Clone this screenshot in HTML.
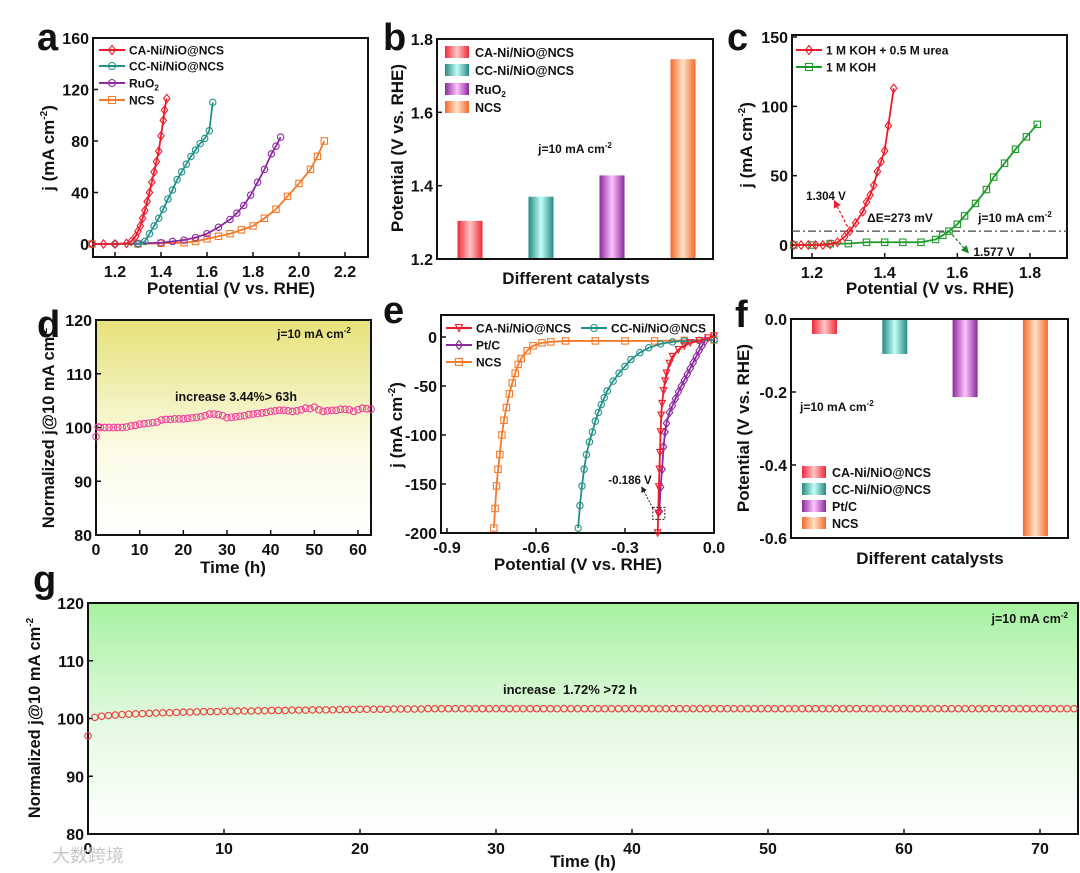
<!DOCTYPE html>
<html><head><meta charset="utf-8">
<style>
html,body{margin:0;padding:0;background:#fff;}
svg{display:block;font-family:"Liberation Sans","Noto Sans CJK SC",sans-serif;font-weight:bold;}
</style></head>
<body>
<svg id="fig" width="1080" height="873" viewBox="0 0 1080 873" xmlns="http://www.w3.org/2000/svg">
<defs>
<linearGradient id="gY" x1="0" y1="0" x2="0" y2="1"><stop offset="0" stop-color="#e6e27a"/><stop offset="0.6" stop-color="#fbfbe6"/><stop offset="1" stop-color="#ffffff"/></linearGradient>
<linearGradient id="gG" x1="0" y1="0" x2="0" y2="1"><stop offset="0" stop-color="#a6f2a0"/><stop offset="0.55" stop-color="#e6fae4"/><stop offset="1" stop-color="#ffffff"/></linearGradient>
<linearGradient id="bRed" x1="0" y1="0" x2="1" y2="0"><stop offset="0" stop-color="#ee2a3a"/><stop offset="0.5" stop-color="#ffc6c6"/><stop offset="1" stop-color="#ee2a3a"/></linearGradient>
<linearGradient id="bTeal" x1="0" y1="0" x2="1" y2="0"><stop offset="0" stop-color="#268a80"/><stop offset="0.5" stop-color="#c4fffa"/><stop offset="1" stop-color="#268a80"/></linearGradient>
<linearGradient id="bPur" x1="0" y1="0" x2="1" y2="0"><stop offset="0" stop-color="#8a2a9c"/><stop offset="0.5" stop-color="#ffc4ff"/><stop offset="1" stop-color="#8a2a9c"/></linearGradient>
<linearGradient id="bOra" x1="0" y1="0" x2="1" y2="0"><stop offset="0" stop-color="#f26a2a"/><stop offset="0.5" stop-color="#ffe2c8"/><stop offset="1" stop-color="#f26a2a"/></linearGradient>
<marker id="arrR" markerWidth="6" markerHeight="6" refX="3" refY="3" orient="auto"><path d="M0,0 L6,3 L0,6 z" fill="#e8203a"/></marker>
<marker id="arrG" markerWidth="6" markerHeight="6" refX="3" refY="3" orient="auto"><path d="M0,0 L6,3 L0,6 z" fill="#1a8a2a"/></marker>
<marker id="arrK" markerWidth="6" markerHeight="6" refX="3" refY="3" orient="auto"><path d="M0,0 L6,3 L0,6 z" fill="#222"/></marker>
</defs>
</svg>
<script>
// ---------- Panel a (OER LSV) ----------
const aRedX=[1.10,1.15,1.20,1.25,1.27,1.29,1.30,1.31,1.32,1.33,1.34,1.35,1.36,1.37,1.38,1.39,1.40,1.41,1.415,1.425];
const aRedY=[0,0,0,0.5,2,6,10,14,20,26,33,40,48,56,64,72,84,96,104,113];
const aTealX=[1.10,1.20,1.30,1.33,1.35,1.37,1.39,1.41,1.43,1.45,1.47,1.49,1.51,1.53,1.55,1.57,1.59,1.61,1.625];
const aTealY=[0,0,0,2,8,14,20,27,35,42,50,56,62,68,73,78,82,88,110];
const aPurX=[1.10,1.20,1.30,1.40,1.45,1.50,1.55,1.60,1.65,1.70,1.73,1.76,1.79,1.82,1.85,1.88,1.90,1.92];
const aPurY=[0,0,0.5,1,2,3,5,8,13,19,24,30,38,48,58,70,76,83];
const aOraX=[1.10,1.30,1.40,1.50,1.55,1.60,1.65,1.70,1.75,1.80,1.85,1.90,1.95,2.00,2.05,2.08,2.11];
const aOraY=[0,0,0.5,1,2,4,6,8,11,14,20,27,37,47,58,68,80];
const aXTicks=[1.2,1.4,1.6,1.8,2.0,2.2];
const aYTicks=[0,40,80,120,160];
// ---------- Panel b (OER bars) ----------
const bCats=["CA-Ni/NiO@NCS","CC-Ni/NiO@NCS","RuO2","NCS"];
const bVals=[1.304,1.370,1.428,1.745];
const bYTicks=[1.2,1.4,1.6,1.8];
// ---------- Panel c ----------
const cRedX=[1.15,1.17,1.19,1.21,1.23,1.25,1.27,1.29,1.304,1.32,1.34,1.35,1.36,1.37,1.38,1.39,1.40,1.41,1.425];
const cRedY=[0,0,0,0,0,0.5,2,6,10,16,24,31,36,43,53,60,68,86,113];
const cGrnX=[1.15,1.20,1.25,1.30,1.35,1.40,1.45,1.50,1.54,1.56,1.577,1.60,1.62,1.65,1.68,1.70,1.73,1.76,1.79,1.82];
const cGrnY=[0,0,1,1,2,2,2,2,4,7,10,15,21,30,40,49,59,69,78,87];
const cXTicks=[1.2,1.4,1.6,1.8];
const cYTicks=[0,50,100,150];
// ---------- Panel d ----------
const dT=[0,0.5,1,2,3,4,5,6,7,8,9,10,11,12,13,14,15,16,17,18,19,20,21,22,23,24,25,26,27,28,29,30,31,32,33,34,35,36,37,38,39,40,41,42,43,44,45,46,47,48,49,50,51,52,53,54,55,56,57,58,59,60,61,62,63];
const dV=[98.3,100.1,100,100,100,100,100,100,100.1,100.3,100.4,100.6,100.7,100.8,100.9,101,101.4,101.5,101.5,101.6,101.6,101.6,101.7,101.8,101.9,102,102.2,102.5,102.5,102.4,102.2,101.8,101.9,102,102.1,102.2,102.4,102.5,102.6,102.7,102.8,103,103.1,103.2,103.2,103.1,103,103.1,103.3,103.6,103.5,103.8,103.3,103,103.1,103.2,103.2,103.4,103.4,103.3,103,103.3,103.6,103.5,103.4];
const dXTicks=[0,10,20,30,40,50,60];
const dYTicks=[80,90,100,110,120];
// ---------- Panel e (HER LSV) ----------
const eOraX=[-0.742,-0.738,-0.733,-0.728,-0.722,-0.715,-0.708,-0.70,-0.69,-0.68,-0.67,-0.66,-0.65,-0.63,-0.61,-0.58,-0.55,-0.50,-0.40,-0.30,-0.20,-0.10,0.0];
const eOraY=[-195,-175,-152,-135,-120,-100,-85,-72,-58,-47,-37,-28,-22,-14,-9,-6,-5,-4,-4,-4,-4,-3.5,-3];
const eTealX=[-0.458,-0.452,-0.445,-0.438,-0.43,-0.42,-0.41,-0.40,-0.39,-0.38,-0.37,-0.36,-0.34,-0.32,-0.30,-0.28,-0.25,-0.22,-0.18,-0.14,-0.10,-0.05,0.0];
const eTealY=[-195,-172,-152,-135,-120,-107,-97,-86,-77,-69,-62,-55,-45,-37,-30,-23,-16,-11,-7,-5,-4,-3.5,-3];
const eRedX=[-0.19,-0.188,-0.186,-0.184,-0.182,-0.18,-0.178,-0.175,-0.17,-0.165,-0.16,-0.15,-0.14,-0.12,-0.10,-0.08,-0.05,-0.02,0.0];
const eRedY=[-200,-180,-153,-135,-118,-97,-80,-68,-55,-45,-37,-27,-20,-13,-9,-6,-4,-1,1];
const ePurX=[-0.184,-0.18,-0.175,-0.17,-0.165,-0.16,-0.15,-0.14,-0.13,-0.12,-0.11,-0.10,-0.09,-0.08,-0.07,-0.06,-0.05,-0.04,-0.03];
const ePurY=[-178,-153,-135,-112,-97,-88,-77,-70,-63,-56,-50,-44,-38,-32,-26,-20,-14,-9,-4];
const eXTicks=[-0.9,-0.6,-0.3,0.0];
const eYTicks=[0,-50,-100,-150,-200];
// ---------- Panel f (HER bars) ----------
const fCats=["CA-Ni/NiO@NCS","CC-Ni/NiO@NCS","Pt/C","NCS"];
const fVals=[-0.041,-0.096,-0.214,-0.595];
const fYTicks=[0,-0.2,-0.4,-0.6];
// ---------- Panel g ----------
const gV=[97,100.2,100.4,100.5,100.6,100.7,100.75,100.8,100.85,100.9,100.95,101,101,101.05,101.1,101.1,101.15,101.2,101.2,101.2,101.25,101.25,101.3,101.3,101.3,101.35,101.35,101.4,101.4,101.4,101.45,101.45,101.45,101.5,101.5,101.5,101.5,101.55,101.55,101.55,101.6,101.6,101.6,101.6,101.6,101.65,101.65,101.65,101.65,101.65,101.7,101.7,101.7,101.7,101.7,101.7,101.7,101.7,101.7,101.7,101.7,101.7,101.7,101.7,101.7,101.7,101.7,101.7,101.7,101.7,101.7,101.7,101.7,101.7,101.7,101.7,101.7,101.7,101.7,101.7,101.7,101.7,101.7,101.7,101.7,101.7,101.7,101.7,101.7,101.7,101.7,101.7,101.7,101.7,101.7,101.7,101.7,101.7,101.7,101.7,101.7,101.7,101.7,101.7,101.7,101.7,101.7,101.7,101.7,101.7,101.7,101.7,101.7,101.7,101.7,101.7,101.7,101.7,101.7,101.7,101.7,101.7,101.7,101.7,101.7,101.7,101.7,101.7,101.7,101.7,101.7,101.7,101.7,101.7,101.7,101.7,101.7,101.7,101.7,101.7,101.7,101.7,101.7,101.7,101.7,101.7];
const gT=gV.map((v,i)=>i===0?0:i*0.5);
const gXTicks=[0,10,20,30,40,50,60,70];
const gYTicks=[80,90,100,110,120];

const NS="http://www.w3.org/2000/svg";
const svg=document.getElementById('fig');
function mk(tag,attrs,parent){const e=document.createElementNS(NS,tag);for(const k in attrs)e.setAttribute(k,attrs[k]);(parent||svg).appendChild(e);return e;}
function lin(d0,d1,r0,r1){return v=>r0+(v-d0)*(r1-r0)/(d1-d0);}
function fmt(v,dec){return v.toFixed(dec);}

function axes(g,box,sx,sy,xt,yt,xdec,ydec,fill){
  if(fill){const bg=mk('rect',{x:box[0],y:box[1],width:box[2]-box[0],height:box[3]-box[1],fill:fill},g);
  
  }
  if(xt){xt.forEach(t=>{const x=sx(t);mk('line',{x1:x,y1:box[3],x2:x,y2:box[3]-5,stroke:'#111','stroke-width':1.5},g);
    const tx=mk('text',{x:x,y:box[3]+20,'text-anchor':'middle','font-size':16,fill:'#111'},g);tx.textContent=fmt(t,xdec);
    
    });}
  yt.forEach(t=>{const y=sy(t);mk('line',{x1:box[0],y1:y,x2:box[0]+5,y2:y,stroke:'#111','stroke-width':1.5},g);
    const tx=mk('text',{x:box[0]-4,y:y+6,'text-anchor':'end','font-size':16,fill:'#111'},g);tx.textContent=fmt(t,ydec);
    
    });
  const fr=mk('rect',{x:box[0],y:box[1],width:box[2]-box[0],height:box[3]-box[1],fill:'none',stroke:'#111','stroke-width':2},g);
  
  
}
function label(g,txt,x,y,size,rot,name,anchor){
  const t=mk('text',{x:x,y:y,'font-size':size,'text-anchor':anchor||'middle',fill:'#111'},g);
  if(rot)t.setAttribute('transform','rotate(-90 '+x+' '+y+')');
  t.innerHTML=txt;
  
  
  return t;
}
function marker(g,shape,x,y,c,r){
  let m;
  if(shape==='sq')m=mk('rect',{x:x-r,y:y-r,width:2*r,height:2*r,fill:'none',stroke:c,'stroke-width':1.1},g);
  else if(shape==='di')m=mk('path',{d:`M${x},${y-r-1}L${x+r},${y}L${x},${y+r+1}L${x-r},${y}Z`,fill:'none',stroke:c,'stroke-width':1.1},g);
  else if(shape==='tri')m=mk('path',{d:`M${x-r},${y-r}L${x+r},${y-r}L${x},${y+r}Z`,fill:'none',stroke:c,'stroke-width':1.1},g);
  else m=mk('circle',{cx:x,cy:y,r:r,fill:'none',stroke:c,'stroke-width':1.1},g);
  return m;
}
function series(g,xs,ys,sx,sy,c,shape,name,r,noLine){
  if(!noLine){const p=mk('polyline',{points:xs.map((x,i)=>sx(x)+','+sy(ys[i])).join(' '),fill:'none',stroke:c,'stroke-width':1.8},g);
  
  }
  xs.forEach((x,i)=>{const m=marker(g,shape,sx(x),sy(ys[i]),c,r||3.2);
    
    });
}
function legLine(g,x,y,c,shape,txt,name){
  mk('line',{x1:x,y1:y,x2:x+26,y2:y,stroke:c,'stroke-width':2},g);
  marker(g,shape,x+13,y,c,3.5);
  const t=mk('text',{x:x+30,y:y+4.5,'font-size':12,fill:'#111'},g);t.innerHTML=txt;
  
  
}
function legBar(g,x,y,grad,txt,name){
  const r=mk('rect',{x:x,y:y-6,width:24,height:12,fill:'url(#'+grad+')'},g);
  
  
  const t=mk('text',{x:x+30,y:y+5,'font-size':12.5,fill:'#111'},g);t.innerHTML=txt;
  
  
}
function panelLetter(txt,x,y){const t=mk('text',{x:x,y:y,'font-size':38,fill:'#111'});t.textContent=txt;
  
  }

const grads=['bRed','bTeal','bPur','bOra'];

// ===== Panel a =====
{const g=mk('g',{});
 const box=[93,38,368,257];const sx=lin(1.2,2.2,115,345);const sy=lin(0,160,244,38);
 axes(g,box,sx,sy,aXTicks,aYTicks,1,0);
 const cg=mk('g',{},g);
 series(cg,aOraX,aOraY,sx,sy,'#f47a2a','sq','ncs');
 series(cg,aPurX,aPurY,sx,sy,'#8e2aa0','circ','ruo2');
 series(cg,aTealX,aTealY,sx,sy,'#23918a','circ','cc-ni-nio');
 series(cg,aRedX,aRedY,sx,sy,'#ee1c2a','di','ca-ni-nio');
 legLine(g,99,50,'#ee1c2a','di','CA-Ni/NiO@NCS','legend-ca');
 legLine(g,99,66,'#23918a','circ','CC-Ni/NiO@NCS','legend-cc');
 legLine(g,99,83,'#8e2aa0','circ','RuO<tspan font-size="8" dy="3">2</tspan>','legend-ruo2');
 legLine(g,99,100,'#f47a2a','sq','NCS','legend-ncs');
 label(g,'Potential (V vs. RHE)',231,294,17,false,'x-axis-title');
 label(g,'j (mA cm<tspan font-size="10" dy="-7">-2</tspan><tspan dy="7">)</tspan>',54,148,17,true,'y-axis-title');
 panelLetter('a',37,50);}

// ===== Panel b =====
{const g=mk('g',{});
 const box=[437,39,713,259];const sy=lin(1.2,1.8,259,39);const sx=lin(0,1,470,541);
 bVals.forEach((v,i)=>{const r=mk('rect',{x:sx(i)-12.5,y:sy(v),width:25,height:sy(1.2)-sy(v),fill:'url(#'+grads[i]+')'},g);
   
   });
 axes(g,box,sx,sy,null,bYTicks,0,1);
 legBar(g,445,52,'bRed','CA-Ni/NiO@NCS','legend-ca');
 legBar(g,445,70,'bTeal','CC-Ni/NiO@NCS','legend-cc');
 legBar(g,445,89,'bPur','RuO<tspan font-size="8" dy="3">2</tspan>','legend-ruo2');
 legBar(g,445,107,'bOra','NCS','legend-ncs');
 label(g,'j=10 mA cm<tspan font-size="8" dy="-5">-2</tspan>',575,153,12,false,'condition-label');
 label(g,'Different catalysts',576,284,17,false,'x-axis-title');
 label(g,'Potential (V vs. RHE)',403,148,17,true,'y-axis-title');
 panelLetter('b',383,50);}

// ===== Panel c =====
{const g=mk('g',{});
 const box=[792,35,1067,258];const sx=lin(1.2,1.8,812,1030);const sy=lin(0,150,245,37);
 axes(g,box,sx,sy,cXTicks,cYTicks,1,0);
 const dl=mk('line',{x1:box[0],y1:sy(10),x2:box[2],y2:sy(10),stroke:'#444','stroke-width':1.3,'stroke-dasharray':'8,3,2,3'},g);
 
 series(g,cGrnX,cGrnY,sx,sy,'#1c9a2a','sq','koh');
 series(g,cRedX,cRedY,sx,sy,'#ee1c2a','di','koh-urea');
 mk('line',{x1:sx(1.304),y1:sy(10),x2:sx(1.265),y2:sy(30),stroke:'#e8203a','stroke-width':1.3,'stroke-dasharray':'3,2','marker-end':'url(#arrR)'},g);
 mk('line',{x1:sx(1.577),y1:sy(10),x2:sx(1.625),y2:sy(-4),stroke:'#1a8a2a','stroke-width':1.3,'stroke-dasharray':'3,2','marker-end':'url(#arrG)'},g);
 label(g,'1.304 V',826,200,11.5,false,'annotation-1304');
 label(g,'ΔE=273 mV',900,222,12,false,'annotation-delta-e');
 label(g,'j=10 mA cm<tspan font-size="8" dy="-5">-2</tspan>',1015,222,12,false,'annotation-j10');
 label(g,'1.577 V',994,256,12,false,'annotation-1577');
 legLine(g,796,50,'#ee1c2a','di','1 M KOH + 0.5 M urea','legend-koh-urea');
 legLine(g,796,67,'#1c9a2a','sq','1 M KOH','legend-koh');
 label(g,'Potential (V vs. RHE)',930,294,17,false,'x-axis-title');
 label(g,'j (mA cm<tspan font-size="10" dy="-7">-2</tspan><tspan dy="7">)</tspan>',752,145,17,true,'y-axis-title');
 panelLetter('c',727,50);}

// ===== Panel d =====
{const g=mk('g',{});
 const box=[96,320,371,535];const sx=lin(0,60,96,358);const sy=lin(80,120,535,320);
 axes(g,box,sx,sy,dXTicks,dYTicks,0,0,'url(#gY)');
 series(g,dT,dV,sx,sy,'#f0409a','circ','stability-d',3.3,true);
 label(g,'j=10 mA cm<tspan font-size="8" dy="-5">-2</tspan>',314,338,12,false,'condition-label');
 label(g,'increase 3.44%&gt; 63h',236,401,12.5,false,'increase-annotation');
 label(g,'Time (h)',233,573,17,false,'x-axis-title');
 label(g,'Normalized j@10 mA cm<tspan font-size="10" dy="-7">-2</tspan>',54,428,16.5,true,'y-axis-title');
 panelLetter('d',37,337);}

// ===== Panel e =====
{const g=mk('g',{});
 const box=[441,315,714,533];const sx=lin(-0.9,0,447,714);const sy=lin(0,-200,337,533);
 axes(g,box,sx,sy,eXTicks,eYTicks,1,0);
 const cg=mk('g',{},g);
 series(cg,eOraX,eOraY,sx,sy,'#f47a2a','sq','ncs');
 series(cg,eTealX,eTealY,sx,sy,'#23918a','circ','cc-ni-nio');
 series(cg,ePurX,ePurY,sx,sy,'#8e2aa0','di','pt-c');
 series(cg,eRedX,eRedY,sx,sy,'#ee1c2a','tri','ca-ni-nio');
 const bx=mk('rect',{x:sx(-0.186)-6,y:sy(-180)-6,width:12,height:12,fill:'none',stroke:'#222','stroke-width':1,'stroke-dasharray':'2,1.5'},g);
 
 mk('line',{x1:sx(-0.186)-6,y1:sy(-180)-5,x2:sx(-0.24),y2:sy(-155),stroke:'#222','stroke-width':1,'stroke-dasharray':'2,1.5','marker-end':'url(#arrK)'},g);
 label(g,'-0.186 V',630,484,11.5,false,'annotation-0186');
 legLine(g,446,328,'#ee1c2a','tri','CA-Ni/NiO@NCS','legend-ca');
 legLine(g,581,328,'#23918a','circ','CC-Ni/NiO@NCS','legend-cc');
 legLine(g,446,345,'#8e2aa0','di','Pt/C','legend-pt-c');
 legLine(g,446,362,'#f47a2a','sq','NCS','legend-ncs');
 label(g,'Potential (V vs. RHE)',578,570,17,false,'x-axis-title');
 label(g,'j (mA cm<tspan font-size="10" dy="-7">-2</tspan><tspan dy="7">)</tspan>',402,425,17,true,'y-axis-title');
 panelLetter('e',383,323);}

// ===== Panel f =====
{const g=mk('g',{});
 const box=[791,319,1068,538];const sy=lin(0,-0.6,319,538);const sx=lin(0,1,824.5,894.8);
 fVals.forEach((v,i)=>{const r=mk('rect',{x:sx(i)-12.5,y:sy(0),width:25,height:sy(v)-sy(0),fill:'url(#'+grads[i]+')'},g);
   
   });
 axes(g,box,sx,sy,null,fYTicks,0,1);
 label(g,'j=10 mA cm<tspan font-size="8" dy="-5">-2</tspan>',800,411,12,false,'condition-label','start');
 legBar(g,802,472,'bRed','CA-Ni/NiO@NCS','legend-ca');
 legBar(g,802,489,'bTeal','CC-Ni/NiO@NCS','legend-cc');
 legBar(g,802,506,'bPur','Pt/C','legend-pt-c');
 legBar(g,802,523,'bOra','NCS','legend-ncs');
 label(g,'Different catalysts',930,564,17,false,'x-axis-title');
 label(g,'Potential (V vs. RHE)',749,428,17,true,'y-axis-title');
 panelLetter('f',735,327);}

// ===== Panel g =====
{const g=mk('g',{});
 const box=[88,603,1078,834];const sx=lin(0,70,88,1040);const sy=lin(80,120,834,603);
 axes(g,box,sx,sy,gXTicks,gYTicks,0,0,'url(#gG)');
 series(g,gT,gV,sx,sy,'#ee3a3a','circ','stability-g',3.2,true);
 label(g,'j=10 mA cm<tspan font-size="8" dy="-5">-2</tspan>',1068,623,12.5,false,'condition-label','end');
 label(g,'increase&#160; 1.72% &gt;72 h',570,694,13,false,'increase-annotation');
 label(g,'Time (h)',583,867,17,false,'x-axis-title');
 label(g,'Normalized j@10 mA cm<tspan font-size="10" dy="-7">-2</tspan>',40,718,16.5,true,'y-axis-title');
 panelLetter('g',33,592);
 const w=mk('text',{x:52,y:862,'font-size':18,fill:'#c8c8c8','font-weight':'normal'},g);w.textContent='大数跨境';
 
 }
</script>
</body></html>
